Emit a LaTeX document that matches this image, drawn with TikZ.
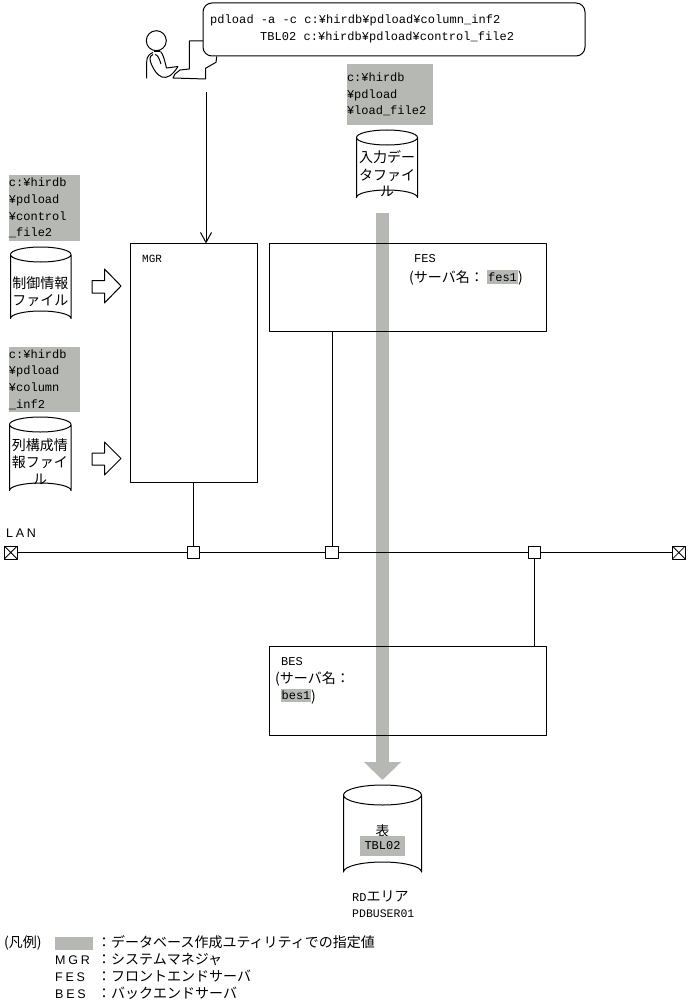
\documentclass[tikz,border=0pt]{standalone}
\usepackage{fontspec}
\usetikzlibrary{arrows.meta}
\setmainfont{Liberation Mono}
\newfontfamily\jpf{Noto Sans CJK JP}
\newfontfamily\widef[LetterSpace=22]{Liberation Sans}
\definecolor{specgrey}{HTML}{B6B8B4}
\newcommand{\latf}{\fontsize{12}{16.7}\selectfont}
\newcommand{\jpt}{\jpf\fontsize{14}{16.7}\selectfont}
\newcommand{\zc}{\char"FF1A\relax}
\newcommand{\cylshape}[5]{% x1,y1,x2,y2,ry
  \draw[thinline] (#1,#2+#5) arc[start angle=180,end angle=540,x radius={(#3-#1)/2},y radius=#5]
    -- (#1,#4-#5) arc[start angle=180,end angle=360,x radius={(#3-#1)/2},y radius=#5] -- (#3,#2+#5);
}
\tikzset{
  thinline/.style={draw=black,line width=1pt,line join=round},
  box/.style={thinline,rectangle,anchor=north west,inner sep=0pt,outer sep=0pt},
  tap/.style={thinline,rectangle,fill=white,minimum size=12.5pt,inner sep=0pt,outer sep=0pt},
  endtap/.style={tap,minimum size=13pt,path picture={\draw[line width=.8pt] (path picture bounding box.north west)--(path picture bounding box.south east) (path picture bounding box.north east)--(path picture bounding box.south west);}},
  greybox/.style={fill=specgrey,rectangle,anchor=north west,inner sep=0pt,outer sep=0pt,align=left,font=\latf},
  greyfill/.style={fill=specgrey,rectangle,anchor=north west,inner sep=0pt,outer sep=0pt},
  lat/.style={anchor=base west,inner sep=0pt,font=\latf},
  jp/.style={anchor=base west,inner sep=0pt,font=\jpt},
  jpc/.style={anchor=base,inner sep=0pt,font=\jpt},
  blockarrow/.style={thinline,fill=white},
  bigflow/.style={draw=specgrey,line width=13pt,-{Triangle[length=18pt,width=36pt,fill=specgrey]}},
  cmdarrow/.style={thinline,-{Straight Barb[length=10pt,width=11pt]}},
}
\begin{document}
\begin{tikzpicture}[x=1pt,y=-1pt]
\useasboundingbox (0,0) rectangle (688,1006);
% big grey flow
\coordinate (flowstart) at (382.5,213);
\coordinate (flowend) at (382.5,780);
\draw[bigflow] (flowstart) -- (flowend);
% boxes
\node[box,minimum width=126.5pt,minimum height=239pt] (mgr) at (130.5,243.5) {};
\node[box,minimum width=277pt,minimum height=88pt] (fes) at (269.5,243.5) {};
\node[box,minimum width=277pt,minimum height=89pt] (bes) at (269.5,646) {};
\node[lat] (mgrlabel) at (142,262) {\fontsize{11}{14}\selectfont MGR};
\node[lat] (feslabel) at (414,262) {FES};
\node[jp] (fesname) at (409,282) {(サーバ名\zc};
\node[greyfill,minimum width=31pt,minimum height=14pt,font=\latf] (fesval) at (487,270) {fes1};
\node[jp] (fesclose) at (518,282) {)};
\node[lat] (beslabel) at (281,665) {BES};
\node[jp] (besname) at (275,683) {(サーバ名\zc};
\node[greyfill,minimum width=30pt,minimum height=13pt,font=\latf] (besval) at (281,689) {bes1};
\node[jp] (besclose) at (311,701) {)};
% LAN
\node[endtap] (lanl) at (10.8,552.5) {};
\node[endtap] (lanr) at (678.8,552.5) {};
\node[tap] (tapa) at (193.5,552.5) {};
\node[tap] (tapb) at (332,552.5) {};
\node[tap] (tapc) at (534.5,552.5) {};
\draw[thinline] (lanl) -- (tapa);
\draw[thinline] (tapa) -- (tapb);
\draw[thinline] (tapb) -- (tapc);
\draw[thinline] (tapc) -- (lanr);
\draw[thinline] (mgr.south -| tapa.north) -- (tapa.north);
\draw[thinline] (fes.south -| tapb.north) -- (tapb.north);
\draw[thinline] (tapc.south) -- (bes.north -| tapc.south);
\node[anchor=base west,inner sep=0pt] (lanlabel) at (6,537) {\widef\fontsize{12.5}{14}\selectfont LAN};
% command callout
\node[box,rounded corners=9pt,minimum width=382pt,minimum height=53pt,fill=white] (cmd) at (203,3) {};
\node[lat] (cmdone) at (210,24) {\addfontfeature{LetterSpace=0.5}pdload -a -c c:¥hirdb¥pdload¥column\_inf2};
\node[lat] (cmdtwo) at (260,41) {\addfontfeature{LetterSpace=0.5}TBL02 c:¥hirdb¥pdload¥control\_file2};
% person
\node[draw=black,line width=1pt,circle,minimum size=20pt,inner sep=0pt] (head) at (156.3,40.7) {};
\draw[line width=2pt] (153.5,51.3) -- (160,51.3);
\draw[thinline] (146.7,78.3) -- (146.7,62) .. controls (146.7,57) and (149,54) .. (153,52.5);
\draw[thinline] (160.5,51.5) .. controls (163,54) and (164,58) .. (166.5,68) -- (178,66.5);
\draw[thinline] (153,54.5) .. controls (149,56) and (149.5,60) .. (151.7,65) .. controls (154,70) and (157,75) .. (162,77) .. controls (167,78.5) and (172,76) .. (178,66.5);
\draw[thinline] (155,54.5) .. controls (158,55) and (159,58) .. (161,64);
\draw[thinline] (203,41) -- (189.3,41) -- (189.3,69) -- (180,70) -- (175,74) -- (173,78) -- (205.5,79) -- (205.5,68.3) -- (216,62.3) -- (216.7,56.5);
\coordinate (cmdstart) at (206,92);
\draw[cmdarrow] (cmdstart) -- (mgr.north -| cmdstart);
% load file
\node[greybox,minimum width=86pt,minimum height=61pt,text width=86pt] (loadpath) at (347,64) {c:¥hirdb\\¥pdload\\¥load\_file2};
\cylshape{356.5}{130}{417.5}{205}{7.5}
\node[jpc] (loadtext) at (387,162) {入力デー};
\node[jpc] (loadtexttwo) at (387,180) {タファイ};
\node[jpc] (loadtextthree) at (387,196) {ル};
% control file
\node[greybox,minimum width=71pt,minimum height=66pt,text width=71pt] (ctrlpath) at (9,175) {c:¥hirdb\\¥pdload\\¥control\\\_file2};
\cylshape{10.5}{247}{71}{326}{7.5}
\node[jpc] (ctrltext) at (40.5,288) {制御情報};
\node[jpc] (ctrltexttwo) at (40.5,305) {ファイル};
\draw[blockarrow] (92,280.5) -- (104.5,280.5) -- (104.5,269) -- (121,286) -- (104.5,303) -- (104.5,293) -- (92,293) -- cycle;
% column file
\node[greybox,minimum width=71pt,minimum height=65pt,text width=71pt] (colpath) at (9,347) {c:¥hirdb\\¥pdload\\¥column\\\_inf2};
\cylshape{9.5}{417}{71}{498}{7.5}
\node[jpc] (coltext) at (40,450) {列構成情};
\node[jpc] (coltexttwo) at (40,467) {報ファイ};
\node[jpc] (coltextthree) at (40,484) {ル};
\draw[blockarrow] (92,453) -- (104.5,453) -- (104.5,442) -- (121,458.5) -- (104.5,475) -- (104.5,465) -- (92,465) -- cycle;
% table
\cylshape{343.5}{785}{421.5}{882}{10}
\node[jpc] (tbltext) at (382.5,836) {表};
\node[greyfill,minimum width=45pt,minimum height=20pt,font=\latf] (tblval) at (360,836) {TBL02};
\node[lat] (rdarea) at (352,901) {RD\jpt エリア};
\node[lat] (pdbuser) at (352,917) {\fontsize{11.5}{14}\selectfont PDBUSER01};
% legend
\node[jp] (legendhead) at (4,947) {(凡例)};
\node[greyfill,minimum width=38pt,minimum height=13pt] (legendswatch) at (55,937) {};
\node[jp] (legendone) at (97,947) {\zc データベース作成ユティリティでの指定値};
\node[jp] (legendtwo) at (55,964) {\makebox[42pt][l]{\widef\fontsize{12.5}{14}\selectfont MGR}\zc システムマネジャ};
\node[jp] (legendthree) at (55,981) {\makebox[42pt][l]{\widef\fontsize{12.5}{14}\selectfont FES}\zc フロントエンドサーバ};
\node[jp] (legendfour) at (55,998) {\makebox[42pt][l]{\widef\fontsize{12.5}{14}\selectfont BES}\zc バックエンドサーバ};
\end{tikzpicture}
\end{document}
